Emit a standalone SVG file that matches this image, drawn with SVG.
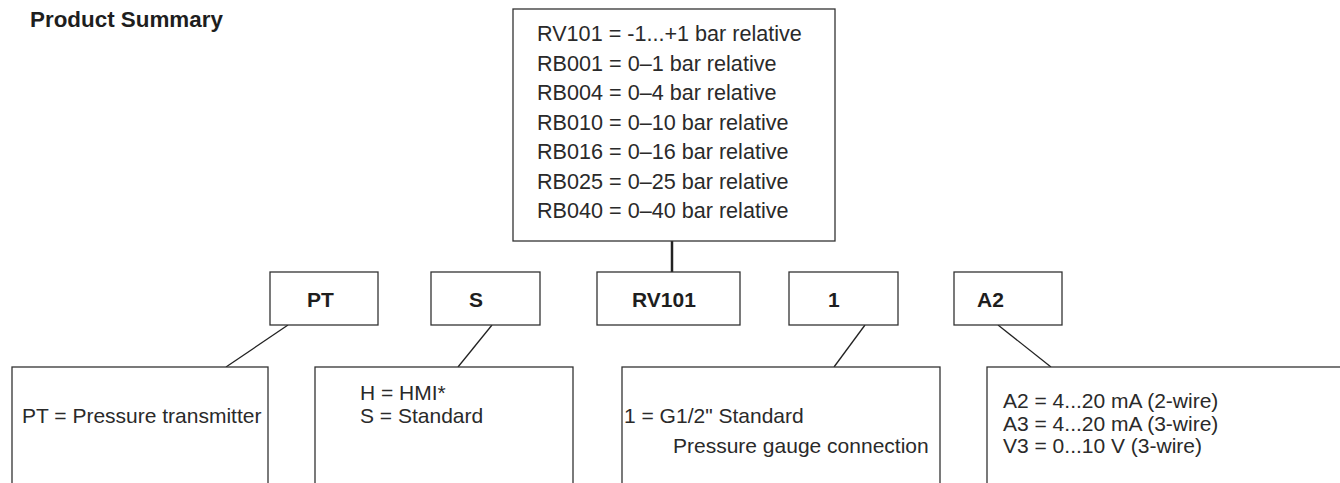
<svg xmlns="http://www.w3.org/2000/svg" width="1340" height="483" viewBox="0 0 1340 483">
<style>
.box{fill:#fff;stroke:#333;stroke-width:1.3}
.t{font-family:"Liberation Sans",Arial,sans-serif;font-size:21px;fill:#2a2a2a}
.top{font-size:21.6px}
.b{font-family:"Liberation Sans",Arial,sans-serif;font-size:21px;font-weight:bold;fill:#1e1e1e}
.c{stroke:#222;stroke-width:1.3;fill:none}
</style>
<rect width="1340" height="483" fill="#fff"/>
<text class="b" x="30" y="27" style="font-size:22.4px">Product Summary</text>
<g id="connectors">
<line class="c" x1="672" y1="241" x2="672" y2="272" style="stroke-width:2.5"/>
<line class="c" x1="288" y1="325" x2="226" y2="367"/>
<line class="c" x1="492" y1="325" x2="458" y2="367"/>
<line class="c" x1="865" y1="325" x2="834" y2="367"/>
<line class="c" x1="998" y1="325" x2="1051" y2="367"/>
</g>
<g id="range-box">
<rect class="box" x="513" y="9" width="322" height="232"/>
<text class="t top" x="537" y="41">RV101 = -1...+1 bar relative</text>
<text class="t top" x="537" y="70.5">RB001 = 0–1 bar relative</text>
<text class="t top" x="537" y="100">RB004 = 0–4 bar relative</text>
<text class="t top" x="537" y="129.5">RB010 = 0–10 bar relative</text>
<text class="t top" x="537" y="159">RB016 = 0–16 bar relative</text>
<text class="t top" x="537" y="188.5">RB025 = 0–25 bar relative</text>
<text class="t top" x="537" y="218">RB040 = 0–40 bar relative</text>
</g>
<g id="code-PT">
<rect class="box" x="270" y="272" width="108" height="53"/>
<text class="b" x="307" y="307">PT</text>
</g>
<g id="code-S">
<rect class="box" x="431" y="272" width="109" height="53"/>
<text class="b" x="469" y="307">S</text>
</g>
<g id="code-RV101">
<rect class="box" x="597" y="272" width="143" height="53"/>
<text class="b" x="632" y="307">RV101</text>
</g>
<g id="code-1">
<rect class="box" x="789" y="272" width="109" height="53"/>
<text class="b" x="828" y="307">1</text>
</g>
<g id="code-A2">
<rect class="box" x="954" y="272" width="108" height="53"/>
<text class="b" x="977" y="307">A2</text>
</g>
<g id="desc-PT">
<rect class="box" x="12" y="367" width="256" height="130"/>
<text class="t" x="22" y="423">PT = Pressure transmitter</text>
</g>
<g id="desc-S">
<rect class="box" x="315" y="367" width="258" height="130"/>
<text class="t" x="360" y="400">H = HMI*</text>
<text class="t" x="360" y="423">S = Standard</text>
</g>
<g id="desc-1">
<rect class="box" x="622" y="367" width="318" height="130"/>
<text class="t" x="624" y="423">1 = G1/2" Standard</text>
<text class="t" x="673" y="453">Pressure gauge connection</text>
</g>
<g id="desc-A2">
<rect class="box" x="987" y="367" width="370" height="130"/>
<text class="t" x="1003" y="408">A2 = 4...20 mA (2-wire)</text>
<text class="t" x="1003" y="431">A3 = 4...20 mA (3-wire)</text>
<text class="t" x="1003" y="453">V3 = 0...10 V (3-wire)</text>
</g>
</svg>
